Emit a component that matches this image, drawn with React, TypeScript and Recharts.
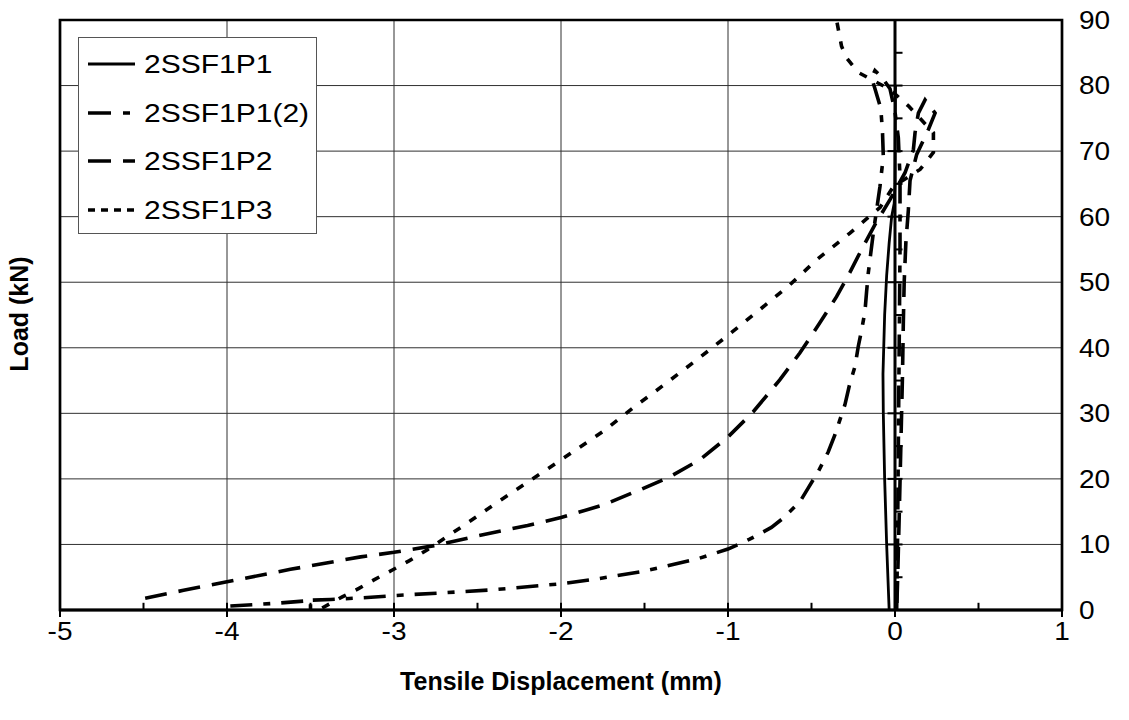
import React from 'react';
import { LineChart, Line, XAxis, YAxis, CartesianGrid, ReferenceLine, ReferenceArea, Legend } from 'recharts';

const FONT = '"Liberation Sans", Arial, Helvetica, sans-serif';
const TICK_SX = 1.12; // slight horizontal stretch of tick text
const LEG_SX = 1.2; // horizontal stretch of legend text

// ---- axes ----
const xTicks = [-5, -4, -3, -2, -1, 0, 1];
const xMinorTicks = [-4.5, -3.5, -2.5, -1.5, -0.5, 0.5];
const yTicks = [0, 10, 20, 30, 40, 50, 60, 70, 80, 90];
const yMinorTicks = [5, 15, 25, 35, 45, 55, 65, 75, 85];

const seriesNames = ['2SSF1P1', '2SSF1P1(2)', '2SSF1P2', '2SSF1P3'];

// ---- 2SSF1P1 (solid) ----
const p1X = [-0.035, -0.05, -0.062, -0.07, -0.072, -0.062, -0.05, -0.035, -0.02, -0.005, 0, 0.003];
const p1Y = [0, 10, 20, 30, 36, 45, 51, 56, 60, 62, 65, 80];

// ---- 2SSF1P1(2) (dash-dot) ----
const p12X = [-3.98, -3.72, -3.5, -3.5, -3.5, -3.38, -3.16, -3.0, -2.72, -2.4, -2.0, -1.77, -1.53, -1.4, -1.17, -1.0,
  -0.87, -0.74, -0.67, -0.57, -0.52, -0.46, -0.4, -0.36, -0.33, -0.3, -0.27, -0.24, -0.22, -0.2, -0.18, -0.17,
  -0.16, -0.13, -0.09, -0.07, -0.075, -0.085, -0.12, -0.14, -0.12, -0.08, -0.03, 0.0, 0.02, 0.03, 0.03, 0.025,
  0.02, 0.015, 0.01];
const p12Y = [0.6, 1.0, 1.45, 0, 1.5, 1.6, 1.9, 2.2, 2.6, 3.1, 4.0, 4.8, 5.8, 6.5, 7.9, 9.3,
  10.8, 12.6, 14.0, 16.5, 18.6, 21.1, 24.1, 26.7, 29, 31.3, 34.6, 37.1, 40.2, 42.7, 45.5, 48.6,
  51.4, 57.5, 64.6, 69.2, 73, 76.5, 79.5, 81.2, 82.3, 81.3, 79.5, 76, 72, 66, 55, 40,
  25, 10, 0];

// ---- 2SSF1P2 (dashed) ----
const p2X = [-4.49, -4.26, -4.0, -3.62, -3.2, -3.0, -2.74, -2.5, -2.2, -2.0, -1.75, -1.53, -1.35, -1.17, -1.0,
  -0.85, -0.69, -0.57, -0.45, -0.35, -0.27, -0.2, -0.12, -0.03, 0.06, 0.11, 0.12, 0.14, 0.18, 0.24, 0.2,
  0.13, 0.09, 0.08, 0.065, 0.055, 0.05, 0.045, 0.035, 0.025, 0.015, 0.01];
const p2Y = [1.8, 3.0, 4.3, 6.2, 8.1, 8.8, 9.9, 11.3, 12.9, 14.1, 16, 18.3, 20.3, 22.9, 26.4,
  30.2, 35.1, 39.2, 43.8, 47.8, 51.5, 55, 58.8, 62.6, 66.7, 70.2, 72.8, 75.8, 77.8, 75.8, 73.3,
  69.5, 65.5, 61, 56, 50, 44, 36, 25, 14, 4, 0];

// ---- 2SSF1P3 (dotted) ----
const p3X = [-3.43, -3.31, -3.21, -3.12, -3.01, -2.91, -2.8, -2.6, -2.4, -2.2, -2.0, -1.75, -1.56, -1.37, -1.19,
  -1.0, -0.82, -0.63, -0.47, -0.27, -0.09, -0.01, 0.15, 0.23, 0.23, 0.08, -0.03, -0.22, -0.29, -0.32, -0.35];
const p3Y = [0.3, 2.0, 3.3, 4.6, 6.1, 7.5, 9.2, 12.6, 16.1, 19.5, 22.9, 27.2, 31, 34.6, 38.1,
  41.9, 45.6, 49.6, 53.4, 57.5, 61.4, 64.6, 67.2, 69.8, 72.8, 76.9, 79.4, 82.0, 84.2, 86, 90];

const toPoints = (xs: number[], ys: number[]) => xs.map((x, i) => ({ x, y: ys[i] }));

const seriesData = [toPoints(p1X, p1Y), toPoints(p12X, p12Y), toPoints(p2X, p2Y), toPoints(p3X, p3Y)];
const seriesStyle = [
  { dash: undefined as string | undefined, width: 2.8 },
  { dash: '22 11 7 11', width: 3.6 },
  { dash: '22 12', width: 3.6 },
  { dash: '8 11', width: 3.6 },
];
const legendDash = [undefined, '23 12 7 12', '23 12', '7 6'];

const XTick = (props: any) => {
  const { x, y, payload } = props;
  return (
    <text transform={`translate(${x},${y}) scale(${TICK_SX},1)`} textAnchor="middle" dy="0.71em"
      fontSize={25} fontFamily={FONT} fill="#000">{payload.value}</text>
  );
};

const YTick = (props: any) => {
  const { x, y, payload } = props;
  return (
    <text transform={`translate(${x},${y}) scale(${TICK_SX},1)`} textAnchor="start" dy="0.355em"
      fontSize={25} fontFamily={FONT} fill="#000">{payload.value}</text>
  );
};

const XTitle = (props: any) => {
  const vb = props.viewBox;
  return (
    <text x={vb.x + vb.width / 2} y={vb.y + 80} textAnchor="middle"
      fontSize={25} fontWeight="bold" fontFamily={FONT} fill="#000">Tensile Displacement (mm)</text>
  );
};

const YTitle = (props: any) => {
  const vb = props.viewBox;
  return (
    <text transform={`translate(${vb.x + 28},${vb.y + vb.height / 2 - 1}) rotate(-90)`} textAnchor="middle"
      fontSize={25} fontWeight="bold" fontFamily={FONT} fill="#000">Load (kN)</text>
  );
};

const renderLegend = () => (
  <div style={{ width: 239, height: 197, boxSizing: 'border-box', border: '1px solid #555', background: '#fff', position: 'relative' }}>
    {seriesNames.map((name, i) => (
      <div key={name} style={{ position: 'absolute', left: 0, top: 26 + i * 48.5 - 15, height: 30, width: 237 }}>
        <svg width={48} height={30} style={{ position: 'absolute', left: 9, top: 0 }}>
          <line x1={0} y1={15} x2={47} y2={15} stroke="#000" strokeWidth={i === 0 ? 2.8 : 3.6}
            strokeDasharray={legendDash[i]} />
        </svg>
        <div style={{ position: 'absolute', left: 65, top: 0, height: 30, lineHeight: '30px', fontSize: 25,
          fontFamily: FONT, color: '#000', whiteSpace: 'nowrap', transform: `scaleX(${LEG_SX})`, transformOrigin: 'left center' }}>
          {name}
        </div>
      </div>
    ))}
  </div>
);

export default function App() {
  return (
    <div style={{ position: 'absolute', left: 0, top: 0, width: 1129, height: 720, background: '#fff' }}>
      <LineChart width={1129} height={720} margin={{ top: 20, right: 0, bottom: 0, left: 0 }}>
        <CartesianGrid stroke="#303030" strokeWidth={1} />
        <XAxis dataKey="x" type="number" domain={[-5, 1]} ticks={xTicks} interval={0} height={110}
          axisLine={{ stroke: '#000', strokeWidth: 3 }} tickLine={{ stroke: '#000', strokeWidth: 2 }}
          tickSize={7} tickMargin={5} tick={<XTick />} label={{ content: <XTitle /> }} />
        <YAxis yAxisId="left" orientation="left" width={60} domain={[0, 90]} ticks={yTicks}
          axisLine={false} tickLine={false} tick={false} label={{ content: <YTitle /> }} />
        <YAxis orientation="right" width={67} domain={[0, 90]} ticks={yTicks} interval={0}
          axisLine={false} tickLine={false} tickSize={6} tickMargin={11} tick={<YTick />} />
        {seriesData.map((d, i) => (
          <Line key={seriesNames[i]} name={seriesNames[i]} data={d} dataKey="y" type="linear" stroke="#000"
            strokeWidth={seriesStyle[i].width} strokeDasharray={seriesStyle[i].dash} dot={false}
            activeDot={false} isAnimationActive={false} />
        ))}
        <ReferenceLine x={0} stroke="#000" strokeWidth={3} />
        {yTicks.filter((t) => t > 0 && t < 90).map((t) => (
          <ReferenceLine key={'ym' + t} segment={[{ x: -0.045, y: t }, { x: 0.045, y: t }]} stroke="#000" strokeWidth={2} />
        ))}
        {yMinorTicks.map((t) => (
          <ReferenceLine key={'yn' + t} segment={[{ x: 0, y: t }, { x: 0.045, y: t }]} stroke="#000" strokeWidth={2} />
        ))}
        {xTicks.filter((t) => t > -5 && t < 1).map((t) => (
          <ReferenceLine key={'xm' + t} segment={[{ x: t, y: 0 }, { x: t, y: 1.1 }]} stroke="#000" strokeWidth={2} />
        ))}
        {xMinorTicks.map((t) => (
          <ReferenceLine key={'xn' + t} segment={[{ x: t, y: 0 }, { x: t, y: 1.1 }]} stroke="#000" strokeWidth={2} />
        ))}
        <ReferenceArea x1={-5} x2={1} y1={0} y2={90} fill="none" fillOpacity={0} stroke="#000" strokeWidth={2.7} />
        <Legend layout="horizontal" verticalAlign="middle" align="center" content={renderLegend}
          wrapperStyle={{ left: 78, top: 37, width: 239, height: 197 }} />
      </LineChart>
    </div>
  );
}
